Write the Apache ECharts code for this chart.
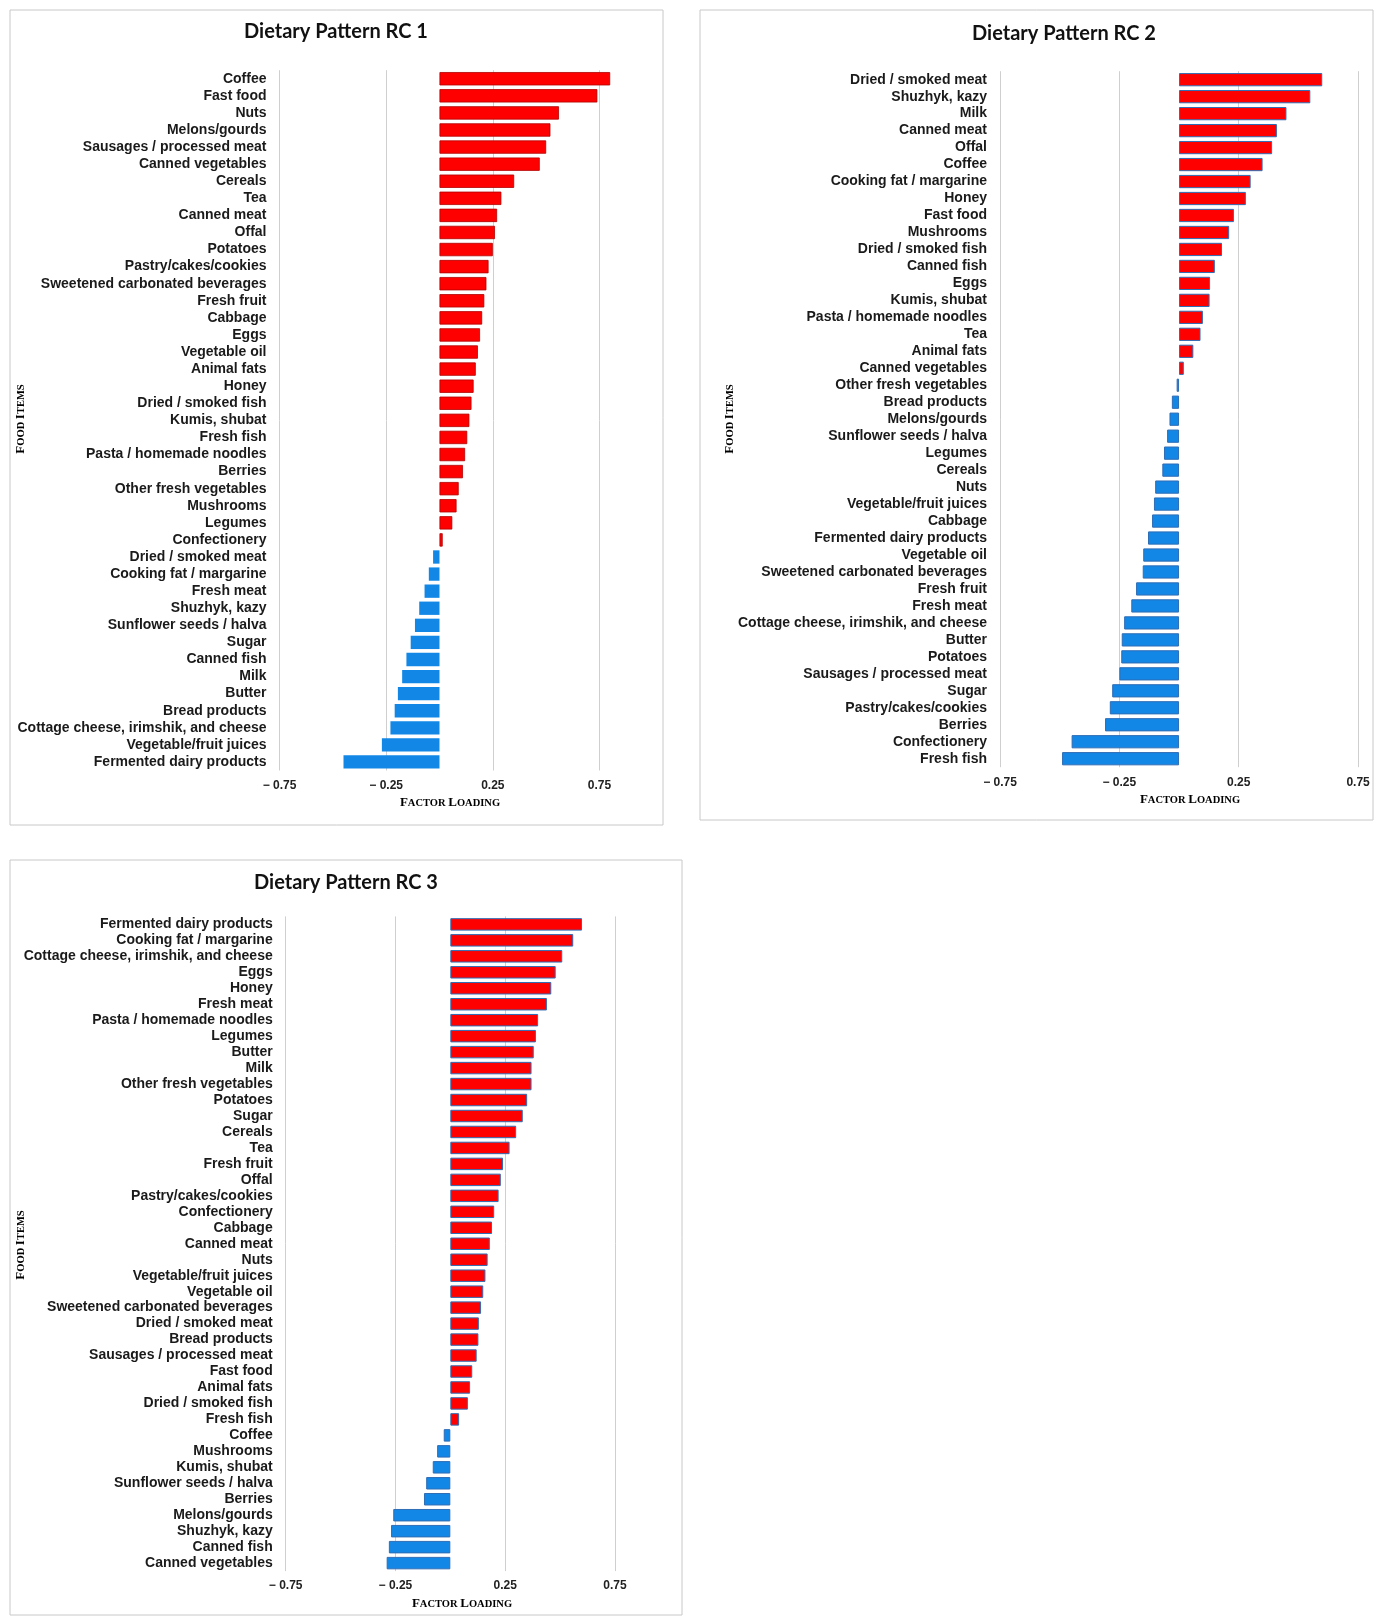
<!DOCTYPE html>
<html>
<head>
<meta charset="utf-8">
<title>Dietary Patterns</title>
<script src="https://cdn.jsdelivr.net/npm/echarts@6/dist/echarts.min.js"></script>
<style>
  html, body { margin: 0; padding: 0; background: #fff; }
  #chart { width: 1380px; height: 1623px; }
</style>
</head>
<body>
<div id="chart"></div>
<script>
// 三個飲食型態 (RC1, RC2, RC3) 的因素負荷量，數值由圖上估讀
const rc1Items = ['Coffee', 'Fast food', 'Nuts', 'Melons/gourds', 'Sausages / processed meat', 'Canned vegetables',
  'Cereals', 'Tea', 'Canned meat', 'Offal', 'Potatoes', 'Pastry/cakes/cookies', 'Sweetened carbonated beverages',
  'Fresh fruit', 'Cabbage', 'Eggs', 'Vegetable oil', 'Animal fats', 'Honey', 'Dried / smoked fish', 'Kumis, shubat',
  'Fresh fish', 'Pasta / homemade noodles', 'Berries', 'Other fresh vegetables', 'Mushrooms', 'Legumes',
  'Confectionery', 'Dried / smoked meat', 'Cooking fat / margarine', 'Fresh meat', 'Shuzhyk, kazy',
  'Sunflower seeds / halva', 'Sugar', 'Canned fish', 'Milk', 'Butter', 'Bread products',
  'Cottage cheese, irimshik, and cheese', 'Vegetable/fruit juices', 'Fermented dairy products'];
const rc1Loadings = [0.80, 0.74, 0.56, 0.52, 0.50, 0.47, 0.35, 0.29, 0.27, 0.26, 0.25, 0.23, 0.22, 0.21, 0.20,
  0.19, 0.18, 0.17, 0.16, 0.15, 0.14, 0.13, 0.12, 0.11, 0.09, 0.08, 0.06, 0.015, -0.03, -0.05, -0.07, -0.095,
  -0.115, -0.135, -0.155, -0.175, -0.195, -0.21, -0.23, -0.27, -0.45];

const rc2Items = ['Dried / smoked meat', 'Shuzhyk, kazy', 'Milk', 'Canned meat', 'Offal', 'Coffee',
  'Cooking fat / margarine', 'Honey', 'Fast food', 'Mushrooms', 'Dried / smoked fish', 'Canned fish', 'Eggs',
  'Kumis, shubat', 'Pasta / homemade noodles', 'Tea', 'Animal fats', 'Canned vegetables', 'Other fresh vegetables',
  'Bread products', 'Melons/gourds', 'Sunflower seeds / halva', 'Legumes', 'Cereals', 'Nuts',
  'Vegetable/fruit juices', 'Cabbage', 'Fermented dairy products', 'Vegetable oil', 'Sweetened carbonated beverages',
  'Fresh fruit', 'Fresh meat', 'Cottage cheese, irimshik, and cheese', 'Butter', 'Potatoes',
  'Sausages / processed meat', 'Sugar', 'Pastry/cakes/cookies', 'Berries', 'Confectionery', 'Fresh fish'];
const rc2Loadings = [0.60, 0.55, 0.45, 0.41, 0.39, 0.35, 0.30, 0.28, 0.23, 0.21, 0.18, 0.15, 0.13, 0.128, 0.10,
  0.09, 0.06, 0.02, -0.01, -0.03, -0.04, -0.05, -0.063, -0.07, -0.10, -0.105, -0.113, -0.13, -0.15, -0.152,
  -0.18, -0.20, -0.23, -0.24, -0.242, -0.25, -0.28, -0.29, -0.31, -0.45, -0.49];

const rc3Items = ['Fermented dairy products', 'Cooking fat / margarine', 'Cottage cheese, irimshik, and cheese',
  'Eggs', 'Honey', 'Fresh meat', 'Pasta / homemade noodles', 'Legumes', 'Butter', 'Milk', 'Other fresh vegetables',
  'Potatoes', 'Sugar', 'Cereals', 'Tea', 'Fresh fruit', 'Offal', 'Pastry/cakes/cookies', 'Confectionery', 'Cabbage',
  'Canned meat', 'Nuts', 'Vegetable/fruit juices', 'Vegetable oil', 'Sweetened carbonated beverages',
  'Dried / smoked meat', 'Bread products', 'Sausages / processed meat', 'Fast food', 'Animal fats',
  'Dried / smoked fish', 'Fresh fish', 'Coffee', 'Mushrooms', 'Kumis, shubat', 'Sunflower seeds / halva', 'Berries',
  'Melons/gourds', 'Shuzhyk, kazy', 'Canned fish', 'Canned vegetables'];
const rc3Loadings = [0.60, 0.56, 0.51, 0.48, 0.46, 0.44, 0.40, 0.39, 0.38, 0.37, 0.37, 0.35, 0.33, 0.30, 0.27,
  0.24, 0.23, 0.22, 0.20, 0.19, 0.18, 0.17, 0.16, 0.15, 0.14, 0.13, 0.128, 0.12, 0.10, 0.09, 0.08, 0.04, -0.03,
  -0.06, -0.08, -0.11, -0.12, -0.26, -0.27, -0.28, -0.29];

const panelTitles = ['Dietary Pattern RC 1', 'Dietary Pattern RC 2', 'Dietary Pattern RC 3'];
const xTicksMin = -0.75;
const xTickStep = 0.5;

const RED = '#FF0000';
const BLUE = '#1287E6';
const LABEL_FONT = '"Liberation Sans", Arial, sans-serif';
const SERIF = '"Liberation Serif", "DejaVu Serif", serif';

// 版面 (像素)
const panels = [
  { box: [10, 10, 653, 815], grid: { left: 279.5, top: 70.2, width: 341.3, height: 700.3 }, max: 0.85,
    title: [336, 32], xName: [450, 803], yName: [21, 419], edge: 'dark' },
  { box: [700, 10, 673, 810], grid: { left: 1000, top: 71.2, width: 370, height: 696 }, max: 0.80,
    title: [1064, 34], xName: [1190, 800], yName: [730, 419], edge: 'blue' },
  { box: [10, 860, 672, 755], grid: { left: 285.7, top: 916.4, width: 351.2, height: 654.7 }, max: 0.85,
    title: [346, 883], xName: [462, 1604], yName: [21, 1245], edge: 'blue' }
];
const itemsList = [rc1Items, rc2Items, rc3Items];
const loadingsList = [rc1Loadings, rc2Loadings, rc3Loadings];

const fmtTick = (v) => {
  const r = Math.round(v * 100) / 100;
  return r < 0 ? '\u2212 ' + Math.abs(r).toFixed(2) : r.toFixed(2);
};

// 小型大寫字 (small caps)
const smallCaps = (words) => words.split(' ').map(w =>
  '{b|' + w[0] + '}{s|' + w.slice(1).toUpperCase() + '}').join('{s| }');
const scRich = {
  b: { fontFamily: SERIF, fontWeight: 'bold', fontSize: 13, color: '#222' },
  s: { fontFamily: SERIF, fontWeight: 'bold', fontSize: 10.5, color: '#222' }
};

const grids = [], xAxes = [], yAxes = [], series = [], graphics = [];

panels.forEach((p, i) => {
  grids.push(Object.assign({ containLabel: false }, p.grid));
  xAxes.push({
    type: 'value', gridIndex: i, min: xTicksMin, max: p.max, interval: xTickStep,
    axisLine: { show: false }, axisTick: { show: false },
    splitLine: { show: true, showMaxLine: false, lineStyle: { color: '#CFCFCF', width: 1 } },
    axisLabel: {
      formatter: fmtTick, showMaxLabel: false, margin: 9,
      fontFamily: LABEL_FONT, fontWeight: 'bold', fontSize: 12, color: '#222'
    }
  });
  yAxes.push({
    type: 'category', gridIndex: i, inverse: true, data: itemsList[i],
    axisLine: { show: false }, axisTick: { show: false }, splitLine: { show: false },
    axisLabel: {
      interval: 0, margin: 13, fontFamily: LABEL_FONT, fontWeight: 'bold', fontSize: 14, color: '#1a1a1a'
    }
  });
  const data = loadingsList[i].map(v => {
    const neg = v < 0;
    let border;
    if (p.edge === 'blue') border = { borderColor: '#2F6DB5', borderWidth: 1 };
    else border = neg ? { borderWidth: 0 } : { borderColor: '#B00000', borderWidth: 0.8 };
    return { value: v, itemStyle: Object.assign({ color: neg ? BLUE : RED }, border) };
  });
  series.push({
    type: 'bar', xAxisIndex: i, yAxisIndex: i, data: data,
    barCategoryGap: '22%', silent: true, animation: false
  });

  graphics.push({
    type: 'rect', shape: { x: p.box[0], y: p.box[1], width: p.box[2], height: p.box[3] },
    style: { fill: 'none', stroke: '#C8C8C8', lineWidth: 1 }, z: -10
  });
  graphics.push({
    type: 'text', x: p.title[0], y: p.title[1],
    style: {
      text: panelTitles[i], fontFamily: 'Lato, "Open Sans", sans-serif', fontWeight: 'bold', fontSize: 20,
      fill: '#111', textAlign: 'center', textVerticalAlign: 'middle'
    }
  });
  graphics.push({
    type: 'text', x: p.xName[0], y: p.xName[1],
    style: {
      text: smallCaps('Factor Loading'), rich: scRich, textAlign: 'center', textVerticalAlign: 'middle'
    }
  });
  graphics.push({
    type: 'text', x: p.yName[0], y: p.yName[1], rotation: Math.PI / 2,
    style: {
      text: smallCaps('Food Items'), rich: scRich, textAlign: 'center', textVerticalAlign: 'middle'
    }
  });
});

const chart = echarts.init(document.getElementById('chart'), null, { renderer: 'canvas' });
chart.setOption({
  backgroundColor: '#fff',
  animation: false,
  grid: grids,
  xAxis: xAxes,
  yAxis: yAxes,
  series: series,
  graphic: graphics
});
</script>
</body>
</html>
